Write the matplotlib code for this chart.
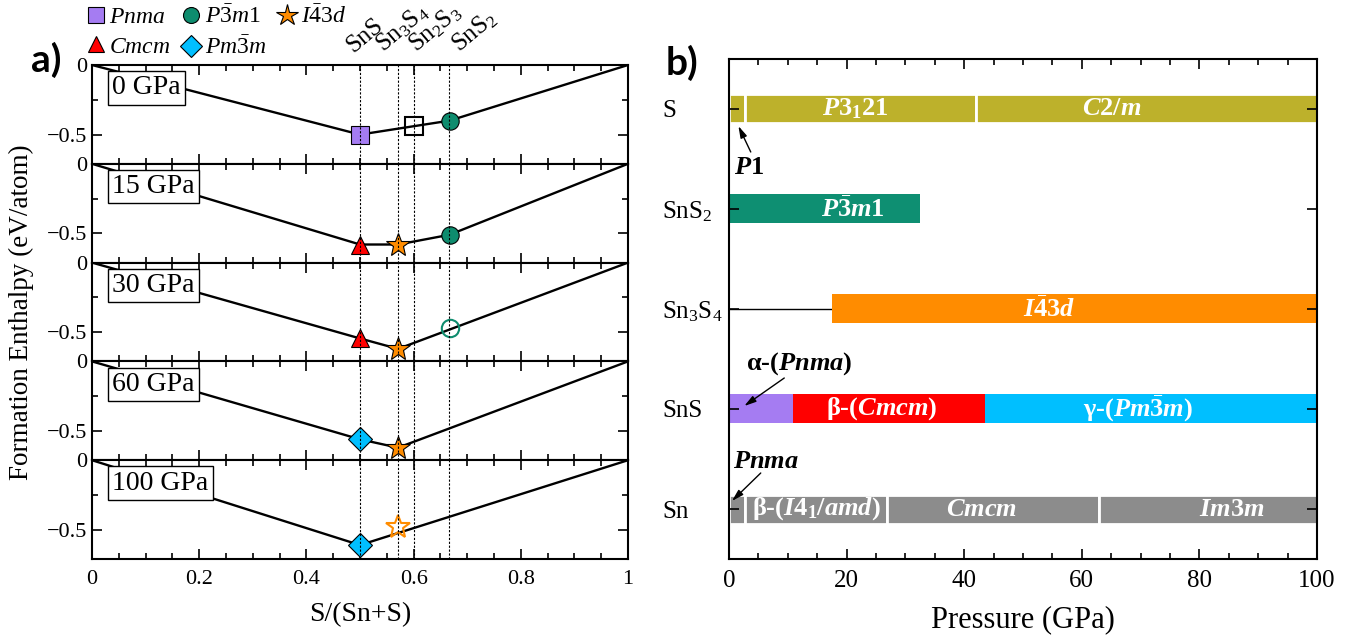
import matplotlib.pyplot as plt
from matplotlib.lines import Line2D
from matplotlib.ticker import MultipleLocator, FixedLocator, FuncFormatter
import matplotlib.transforms as mtransforms

plt.rcParams['font.family'] = ['Liberation Serif', 'DejaVu Serif']
plt.rcParams['mathtext.fontset'] = 'custom'
plt.rcParams['mathtext.rm'] = 'Liberation Serif'
plt.rcParams['mathtext.it'] = 'Liberation Serif:italic'
plt.rcParams['mathtext.bf'] = 'Liberation Serif:bold'
plt.rcParams['mathtext.bfit'] = 'Liberation Serif:italic:bold'

# ---------------- panel a: convex hulls ----------------
pressures = ['0 GPa', '15 GPa', '30 GPa', '60 GPa', '100 GPa']
hull_x = [[0, 0.5, 0.6, 0.667, 1],
          [0, 0.5, 0.571, 0.667, 1],
          [0, 0.5, 0.571, 1],
          [0, 0.5, 0.571, 1],
          [0, 0.5, 1]]
hull_y = [[0, -0.50, -0.44, -0.40, 0],
          [0, -0.58, -0.58, -0.51, 0],
          [0, -0.545, -0.62, 0],
          [0, -0.56, -0.62, 0],
          [0, -0.61, 0]]

comp_labels = ['SnS', r'Sn$_3$S$_4$', r'Sn$_2$S$_3$', r'SnS$_2$']
comp_x = [0.5, 4 / 7, 0.6, 2 / 3]
comp_label_x = [0.487, 0.543, 0.605, 0.686]

phase_keys = ['Pnma', 'Cmcm', 'P-3m1', 'Pm-3m', 'I-43d', 'Sn2S3']
phase_labels = [r'$Pnma$', r'$Cmcm$', r'$P\bar{3}m1$', r'$Pm\bar{3}m$', r'$I\bar{4}3d$', None]
phase_markers = ['s', '^', 'o', 'D', '*', 's']
phase_colors = ['#A57CF2', '#FF0000', '#0E8C6E', '#00BFFF', '#FF8C00', 'black']

# (panel, phase, x, y, filled)
points = [(0, 'Pnma', 0.5, -0.50, True), (0, 'Sn2S3', 0.6, -0.44, False),
          (0, 'P-3m1', 0.667, -0.40, True),
          (1, 'Cmcm', 0.5, -0.58, True), (1, 'I-43d', 0.571, -0.58, True),
          (1, 'P-3m1', 0.667, -0.51, True),
          (2, 'Cmcm', 0.5, -0.545, True), (2, 'I-43d', 0.571, -0.62, True),
          (2, 'P-3m1', 0.667, -0.47, False),
          (3, 'Pm-3m', 0.5, -0.56, True), (3, 'I-43d', 0.571, -0.62, True),
          (4, 'Pm-3m', 0.5, -0.61, True), (4, 'I-43d', 0.571, -0.48, False)]

# ---------------- panel b: phase diagram ----------------
categories = ['Sn', 'SnS', r'Sn$_3$S$_4$', r'SnS$_2$', 'S']
olive, teal, orange = '#BDB12B', '#0E8F72', '#FF8C00'
purple, red, blue, gray = '#A57CF2', '#FF0000', '#00BFFF', '#8C8C8C'
seg_row = [4, 4, 4, 3, 2, 1, 1, 1, 0, 0, 0, 0]
seg_start = [0, 2.8, 42.0, 0, 17.5, 0, 10.8, 43.5, 0, 2.8, 26.8, 62.9]
seg_end = [2.8, 42.0, 100, 32.5, 100, 10.8, 43.5, 100, 2.8, 26.8, 62.9, 100]
seg_color = [olive, olive, olive, teal, orange, purple, red, blue, gray, gray, gray, gray]
seg_label = ['', r'$\mathbfit{P}$3$_{\mathbf{1}}$21', r'$\mathbfit{C}$2/$\mathbfit{m}$',
             r'$\mathbfit{P}\bar{\mathbf{3}}\mathbfit{m}$1', r'$\mathbfit{I}\bar{\mathbf{4}}$3$\mathbfit{d}$',
             '', r'β-($\mathbfit{Cmcm}$)', r'γ-($\mathbfit{Pm}\bar{\mathbf{3}}\mathbfit{m}$)',
             '', r'β-($\mathbfit{I}$4$_{\mathbf{1}}$/$\mathbfit{amd}$)', r'$\mathbfit{Cmcm}$',
             r'$\mathbfit{Im}\bar{\mathbf{3}}\mathbfit{m}$']
seg_label_x = [0, 21.5, 65, 21, 54.5, 0, 26, 69.5, 0, 14.8, 43, 85.5]
unstable_sn3s4 = (0, 17.5)

notes = [r'$\mathbfit{P}$1', r'α-($\mathbfit{Pnma}$)', r'$\mathbfit{Pnma}$']
note_xy = [(3.4, 3.41), (12.0, 1.45), (6.3, 0.47)]
note_tip = [(1.6, 3.83), (2.6, 1.03), (0.5, 0.08)]
note_tail = [(3.7, 3.57), (9.4, 1.31), (5.4, 0.36)]

fig = plt.figure(figsize=(13.53, 6.35), dpi=100)

# ---- panel a
W, H = 1353.0, 635.0
left_a, right_a, top_a, bot_a = 92, 628, 65, 559
ph = (bot_a - top_a) / 5.0
axes_a = []
for i, lab in enumerate(pressures):
    ax = fig.add_axes([left_a / W, 1 - (top_a + (i + 1) * ph) / H,
                       (right_a - left_a) / W, ph / H])
    axes_a.append(ax)
    ax.plot(hull_x[i], hull_y[i], color='black', lw=1.7, zorder=2)
    for c in comp_x:
        ax.axvline(c, color='black', lw=0.8, ls=(0, (2, 1.5)), zorder=4)
    for (p, key, x, y, filled) in points:
        if p != i:
            continue
        k = phase_keys.index(key)
        ms = 18 if phase_markers[k] == '*' else 12.5
        if filled:
            ax.plot(x, y, marker=phase_markers[k], ms=ms, mfc=phase_colors[k],
                    mec='black', mew=0.8, ls='none', zorder=3)
        else:
            ax.plot(x, y, marker=phase_markers[k], ms=ms, mfc='none',
                    mec=phase_colors[k], mew=1.5, ls='none', zorder=3)
    ax.text(0.038, 0.895, lab, transform=ax.transAxes, fontsize=20, va='top', ha='left',
            zorder=5, bbox=dict(boxstyle='square,pad=0.15', fc='white', ec='black', lw=1))
    ax.set_xlim(0, 1)
    ax.set_ylim(-0.71, 0)
    ax.xaxis.set_major_locator(MultipleLocator(0.2))
    ax.xaxis.set_minor_locator(MultipleLocator(0.05))
    ax.yaxis.set_major_locator(FixedLocator([0, -0.5]))
    ax.yaxis.set_minor_locator(FixedLocator([-0.25]))
    ax.yaxis.set_major_formatter(FuncFormatter(lambda v, p: '0' if v == 0 else ('%g' % v).replace('-', '\u2212')))
    ax.xaxis.set_major_formatter(FuncFormatter(lambda v, p: '%g' % v))
    ax.tick_params(which='both', direction='in', top=True, right=True, labelsize=16, width=1.2)
    ax.tick_params(which='major', length=7)
    ax.tick_params(which='minor', length=4)
    ax.tick_params(axis='x', pad=8)
    for s in ax.spines.values():
        s.set_linewidth(1.5)
    if i < 4:
        ax.tick_params(labelbottom=False)

ax0 = axes_a[0]
trans = mtransforms.blended_transform_factory(ax0.transData, ax0.transAxes)
for lab, lx in zip(comp_labels, comp_label_x):
    ax0.text(lx, 1.12, lab, transform=trans, rotation=40, rotation_mode='anchor',
             ha='left', va='baseline', fontsize=18)

axes_a[-1].set_xlabel('S/(Sn+S)', fontsize=20, labelpad=9)
fig.text(0.016, 1 - (top_a + bot_a) / 2 / H, 'Formation Enthalpy (eV/atom)', rotation=90,
         fontsize=19.5, ha='center', va='center')

handles = []
for k in range(5):
    ms = 16 if phase_markers[k] == '*' else 11.5
    handles.append(Line2D([], [], marker=phase_markers[k], ms=ms, mfc=phase_colors[k],
                          mec='black', mew=0.8, ls='none'))
fig.legend(handles, phase_labels[:5], loc='upper left', bbox_to_anchor=(87 / W, 1 - 5 / H),
           ncol=3, frameon=False, fontsize=17, handlelength=0.75, handletextpad=0.2,
           columnspacing=0.5, labelspacing=0.35, borderaxespad=0, borderpad=0)

fig.text(46 / W, 1 - 60 / H, 'a)', fontsize=28, fontweight='bold', family='Lato',
         ha='center', va='center')
fig.text(682 / W, 1 - 63 / H, 'b)', fontsize=28, fontweight='bold', family='Lato',
         ha='center', va='center')

# ---- panel b
left_b, right_b, top_b, bot_b = 729, 1317, 59, 559
axb = fig.add_axes([left_b / W, 1 - bot_b / H, (right_b - left_b) / W, (bot_b - top_b) / H])
axb.set_axisbelow(False)
axb.plot(unstable_sn3s4, [2, 2], color='black', lw=1, zorder=1)
for r, a, b, c, lab, lx in zip(seg_row, seg_start, seg_end, seg_color, seg_label, seg_label_x):
    split = categories[r] in ('S', 'Sn')
    axb.barh(r, b - a, left=a, height=0.29, color=c,
             edgecolor='white' if split else c, linewidth=2 if split else 0, zorder=2)
    if lab:
        axb.text(lx, r, lab, color='white', fontsize=19, fontweight='bold',
                 ha='center', va='center', zorder=3)
for t, xy, tip, tail in zip(notes, note_xy, note_tip, note_tail):
    axb.text(xy[0], xy[1], t, fontsize=19, fontweight='bold', ha='center', va='center')
    axb.annotate('', xy=tip, xytext=tail,
                 arrowprops=dict(arrowstyle='-|>,head_length=0.7,head_width=0.2',
                                 color='black', lw=1, shrinkA=0, shrinkB=0))
axb.set_xlim(0, 100)
axb.set_ylim(-0.5, 4.5)
axb.set_yticks(range(len(categories)))
axb.set_yticklabels(categories, ha='left')
axb.xaxis.set_major_locator(MultipleLocator(20))
axb.xaxis.set_minor_locator(MultipleLocator(5))
axb.tick_params(which='both', direction='in', top=True, right=True, width=1.2)
axb.tick_params(which='major', length=7)
axb.tick_params(which='minor', length=4)
axb.tick_params(axis='x', labelsize=18, pad=8)
axb.tick_params(axis='y', labelsize=18, pad=48)
for s in axb.spines.values():
    s.set_linewidth(1.5)
fig.text((left_b + right_b) / 2 / W, 1 - 627 / H, 'Pressure (GPa)', fontsize=22,
         ha='center', va='baseline')

fig.savefig('out.png', dpi=100)
